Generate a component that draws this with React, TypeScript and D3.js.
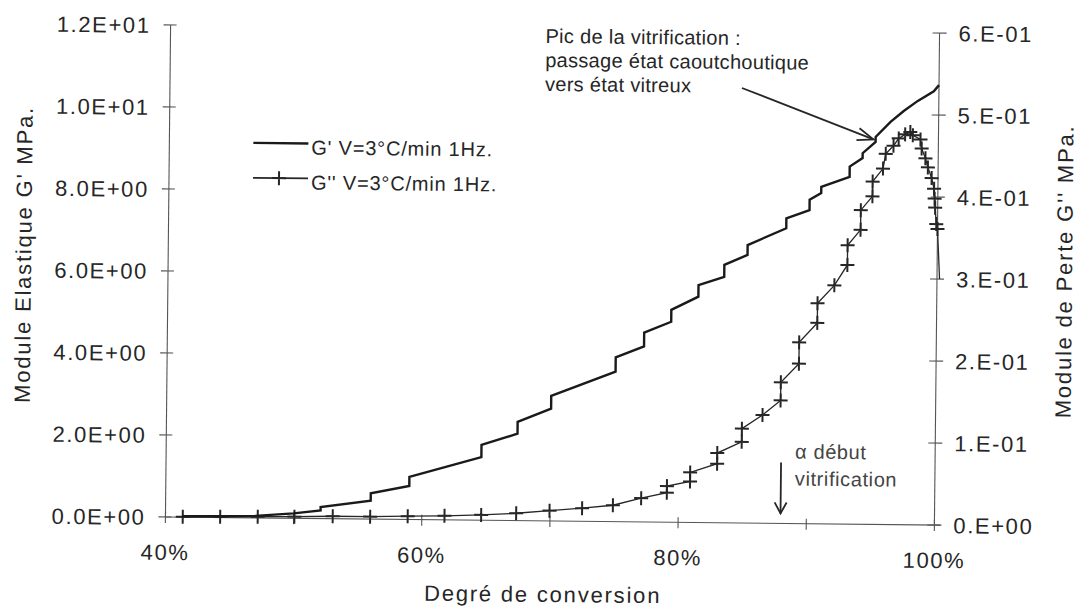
import React from 'react'
import * as d3 from 'd3'

// degree of conversion (%) and G' (MPa) – stepped trace
const gpConv = [41.3, 44, 47, 50, 52.1, 52.1, 56.0, 56.0, 59.0, 59.0, 64.6, 64.6, 67.4, 67.4, 70.0, 70.0, 75.0, 75.0, 77.2, 77.2, 79.3, 79.3, 81.4, 81.4, 83.4, 83.4, 85.2, 85.2, 88.2, 88.2, 90.0, 90.0, 90.9, 90.9, 93.1, 93.1, 94.1, 94.1, 95.1, 95.1, 96.25, 97.27, 98.36, 99.6, 100]
const gpMod = [0.02, 0.03, 0.05, 0.12, 0.2, 0.28, 0.45, 0.63, 0.82, 1.04, 1.54, 1.84, 2.12, 2.41, 2.74, 3.05, 3.66, 4.01, 4.28, 4.62, 4.89, 5.18, 5.51, 5.79, 6.0, 6.29, 6.54, 6.78, 7.2, 7.44, 7.65, 7.9, 8.07, 8.22, 8.47, 8.72, 8.93, 9.05, 9.33, 9.45, 9.82, 10.09, 10.34, 10.58, 10.73]

// degree of conversion (%) and G'' (MPa)
const gsConv = [41.35, 44.27, 47.2, 50.06, 53.05, 55.97, 58.9, 61.77, 64.63, 67.36, 69.96, 72.5, 74.9, 77.1, 79.1, 79.1, 80.9, 80.9, 83.0, 83.0, 84.9, 84.9, 86.5, 87.9, 87.9, 89.3, 89.3, 90.7, 90.7, 92.0, 93.0, 93.0, 94.0, 94.0, 94.9, 94.9, 95.7, 95.9, 96.5, 96.9, 97.4, 97.8, 98.0, 98.6, 98.7, 99.0, 99.2, 99.5, 99.7, 99.75, 99.8, 99.9, 100.0, 100.2]
const gsMod = [0.0005, 0.001, 0.0015, 0.002, 0.003, 0.003, 0.004, 0.005, 0.0065, 0.009, 0.0126, 0.016, 0.02, 0.029, 0.036, 0.044, 0.05, 0.061, 0.072, 0.085, 0.099, 0.115, 0.132, 0.15, 0.172, 0.195, 0.221, 0.245, 0.269, 0.291, 0.316, 0.34, 0.359, 0.383, 0.4, 0.418, 0.434, 0.452, 0.462, 0.471, 0.476, 0.479, 0.475, 0.47, 0.459, 0.447, 0.436, 0.423, 0.41, 0.398, 0.387, 0.367, 0.361, 0.30]

const xTicks = [40, 50, 60, 70, 80, 90, 100]
const xLabels = ['40%', '', '60%', '', '80%', '', '100%']
const leftTicks = [0, 2, 4, 6, 8, 10, 12]
const leftLabels = ['0.0E+00', '2.0E+00', '4.0E+00', '6.0E+00', '8.0E+00', '1.0E+01', '1.2E+01']
const rightTicks = [0, 0.1, 0.2, 0.3, 0.4, 0.5, 0.6]
const rightLabels = ['0.E+00', '1.E-01', '2.E-01', '3.E-01', '4.E-01', '5.E-01', '6.E-01']

const ink = '#262626'
const font = "'Liberation Sans', Arial, sans-serif"

const App = () => {
  var frame = { left: 168, right: 937, top: 29, bottom: 521 }
  const x = d3.scaleLinear().domain([40, 100]).range([frame.left, frame.right])
  const yL = d3.scaleLinear().domain([0, 12]).range([frame.bottom, frame.top])
  const yR = d3.scaleLinear().domain([0, 0.6]).range([frame.bottom, frame.top])

  const gp = gpConv.map((c, i) => [x(c), yL(gpMod[i])] as [number, number])
  const gs = gsConv.map((c, i) => [x(c), yR(gsMod[i])] as [number, number])
  const line = d3.line()

  const plus = (cx: number, cy: number, k: string | number) => (
    <path key={k} d={`M${cx - 7},${cy}H${cx + 7}M${cx},${cy - 7}V${cy + 7}`} stroke={ink} strokeWidth={2} />
  )

  return (
    <svg width={1082} height={612} style={{ position: 'absolute', left: 0, top: 0, background: '#fff' }}
      fontFamily={font} fill={ink}>
      <g transform="rotate(0.6, 552, 275)">
        {/* axes */}
        <g stroke="#555" strokeWidth={1.1}>
          <line x1={frame.left} x2={frame.right + 6} y1={frame.bottom} y2={frame.bottom} />
          <line x1={frame.left} x2={frame.left} y1={frame.top} y2={frame.bottom} />
          <line x1={frame.right} x2={frame.right} y1={frame.top} y2={frame.bottom} />
          {xTicks.map(t => <line key={t} x1={x(t)} x2={x(t)} y1={frame.bottom - 5} y2={frame.bottom + 6} />)}
          {leftTicks.map(t => <line key={t} x1={frame.left - 7} x2={frame.left + 6} y1={yL(t)} y2={yL(t)} />)}
          {rightTicks.map(t => <line key={t} x1={frame.right - 7} x2={frame.right + 7} y1={yR(t)} y2={yR(t)} />)}
        </g>
        <g fontSize={22} letterSpacing={1.6}>
          {xLabels.map((l, i) => l && <text key={i} x={x(xTicks[i])} y={frame.bottom + 43} textAnchor="middle">{l}</text>)}
          {leftLabels.map((l, i) => <text key={i} x={frame.left - 20} y={yL(leftTicks[i]) + 8} textAnchor="end">{l}</text>)}
          {rightLabels.map((l, i) => <text key={i} x={frame.right + 19} y={yR(rightTicks[i]) + 8}>{l}</text>)}
          <text x={546} y={602} textAnchor="middle" letterSpacing={1.8}>Degré de conversion</text>
          <text transform="translate(31,260) rotate(-90)" textAnchor="middle" letterSpacing={1.8}>Module Elastique G' MPa.</text>
          <text transform="translate(1072,266) rotate(-90)" textAnchor="middle" letterSpacing={1.8}>Module de Perte G'' MPa.</text>
        </g>

        {/* series */}
        <path d={line(gs) || ''} fill="none" stroke={ink} strokeWidth={1.3} />
        {gs.slice(0, -1).map((p, i) => plus(p[0], p[1], i))}
        <path d={line(gp) || ''} fill="none" stroke="#1a1a1a" strokeWidth={2.4} />

        {/* legend */}
        <line x1={252} x2={307} y1={146} y2={146} stroke="#1a1a1a" strokeWidth={2.4} />
        <line x1={252} x2={307} y1={181} y2={181} stroke={ink} strokeWidth={1.8} />
        {plus(278, 181, 'leg')}
        <g fontSize={20} letterSpacing={0.8}>
          <text x={310} y={157}>G' V=3°C/min 1Hz.</text>
          <text x={310} y={192}>G'' V=3°C/min 1Hz.</text>
        </g>

        {/* annotations */}
        <g fontSize={20} letterSpacing={0.3}>
          <text x={543} y={43}>Pic de la vitrification :</text>
          <text x={543} y={67}>passage état caoutchoutique</text>
          <text x={543} y={91}>vers état vitreux</text>
        </g>
        <g stroke={ink} strokeWidth={1.8} fill="none">
          <line x1={740} y1={86} x2={872} y2={136} />
          <path d="M858,125 L872,136 L855,137" />
          <line x1={783} y1={460} x2={783} y2={511} />
          <path d="M777,500 L783,511 L789,500" />
        </g>
        <g fontSize={20} letterSpacing={0.6} fill="#444">
          <text x={797} y={456}>α  début</text>
          <text x={797} y={483}>vitrification</text>
        </g>
      </g>
    </svg>
  )
}

export default App
